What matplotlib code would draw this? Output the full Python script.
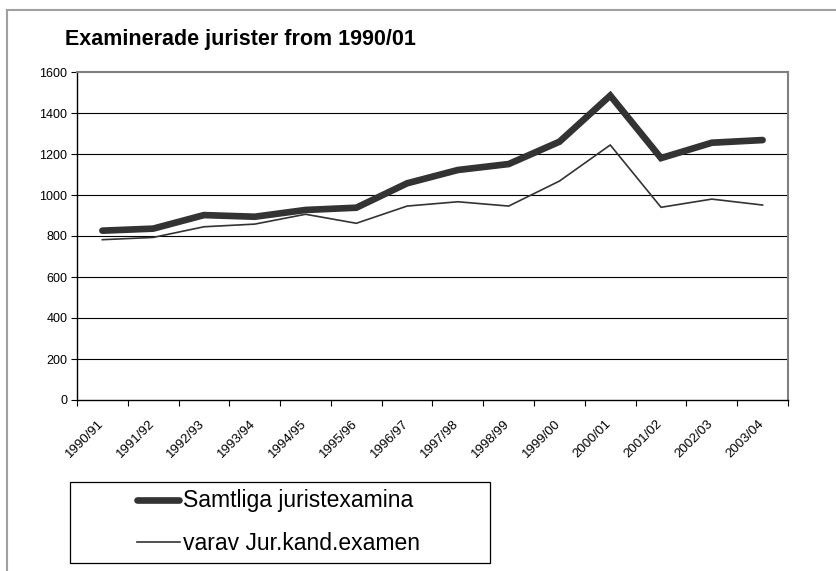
import matplotlib
matplotlib.use("Agg")
import matplotlib.pyplot as plt
import matplotlib.transforms as mtransforms
from matplotlib.lines import Line2D
from matplotlib.patches import Rectangle

plt.rcParams['font.family'] = ['Liberation Sans', 'DejaVu Sans']

# data
years = ['1990/91', '1991/92', '1992/93', '1993/94', '1994/95', '1995/96', '1996/97',
         '1997/98', '1998/99', '1999/00', '2000/01', '2001/02', '2002/03', '2003/04']
samtliga = [826, 836, 902, 894, 927, 938, 1057, 1122, 1151, 1260, 1485, 1180, 1255, 1268]
jurkand = [782, 793, 845, 858, 906, 862, 946, 967, 946, 1068, 1244, 940, 980, 951]
yticks = [0, 200, 400, 600, 800, 1000, 1200, 1400, 1600]

W, H = 837, 571
fig = plt.figure(figsize=(W / 100, H / 100), dpi=100)

# outer frame (left + top only visible)
fig.add_artist(Line2D([7 / W, 7 / W], [0, 1 - 10 / H], transform=fig.transFigure,
                      color='#a0a0a0', lw=1.5))
fig.add_artist(Line2D([7 / W, 1], [1 - 10 / H, 1 - 10 / H], transform=fig.transFigure,
                      color='#a0a0a0', lw=1.5))

ax = fig.add_axes([77 / W, 1 - 400 / H, (788 - 77) / W, (400 - 72) / H])
x = list(range(len(years)))
ax.plot(x, samtliga, color='#333333', lw=4.8, solid_capstyle='round', solid_joinstyle='miter')
ax.plot(x, jurkand, color='#333333', lw=1.2)

ax.set_xlim(-0.5, len(years) - 0.5)
ax.set_ylim(0, 1600)
ax.set_yticks(yticks)
ax.set_yticklabels([str(v) for v in yticks], fontsize=9)
for v in yticks[1:-1]:
    ax.axhline(v, color='black', lw=0.8, zorder=0)

# category ticks between categories, labels at centers
ax.set_xticks([i - 0.5 for i in range(len(years) + 1)])
ax.set_xticklabels([])
ax.set_xticks(x, minor=True)
ax.set_xticklabels(years, minor=True, rotation=45, ha='right', rotation_mode='anchor',
                   fontsize=9.5)
ax.tick_params(axis='x', which='minor', length=0, pad=13)
ax.tick_params(axis='x', which='major', length=4, direction='out', width=0.8)
ax.tick_params(axis='y', length=4, direction='out', width=0.8, pad=3)
shift = mtransforms.ScaledTranslation(-5 / 100, 0, fig.dpi_scale_trans)
for lab in ax.get_xticklabels(minor=True):
    lab.set_transform(lab.get_transform() + shift)

ax.spines['left'].set_color('black')
ax.spines['bottom'].set_color('black')
ax.spines['top'].set_color('#808080')
ax.spines['right'].set_color('#808080')
for s in ax.spines.values():
    s.set_linewidth(1.0)
ax.spines['top'].set_linewidth(1.5)
ax.spines['right'].set_linewidth(1.5)

fig.text(65 / W, 1 - 40 / H, 'Examinerade jurister from 1990/01', fontsize=15.5,
         fontweight='bold', va='center', ha='left')

# legend box
fig.add_artist(Rectangle((70 / W, 1 - 563 / H), (490 - 70) / W, (563 - 482) / H,
                         transform=fig.transFigure, fill=False, edgecolor='black', lw=0.9))
fig.add_artist(Line2D([137 / W, 179 / W], [1 - 500 / H, 1 - 500 / H], transform=fig.transFigure,
                      color='#333333', lw=4.8, solid_capstyle='round'))
fig.add_artist(Line2D([137 / W, 180 / W], [1 - 542 / H, 1 - 542 / H], transform=fig.transFigure,
                      color='#333333', lw=1.2))
fig.text(183 / W, 1 - 501 / H, 'Samtliga juristexamina', fontsize=16.5, va='center', ha='left')
fig.text(183 / W, 1 - 543 / H, 'varav Jur.kand.examen', fontsize=16.5, va='center', ha='left')

fig.savefig('out.png', dpi=100)
